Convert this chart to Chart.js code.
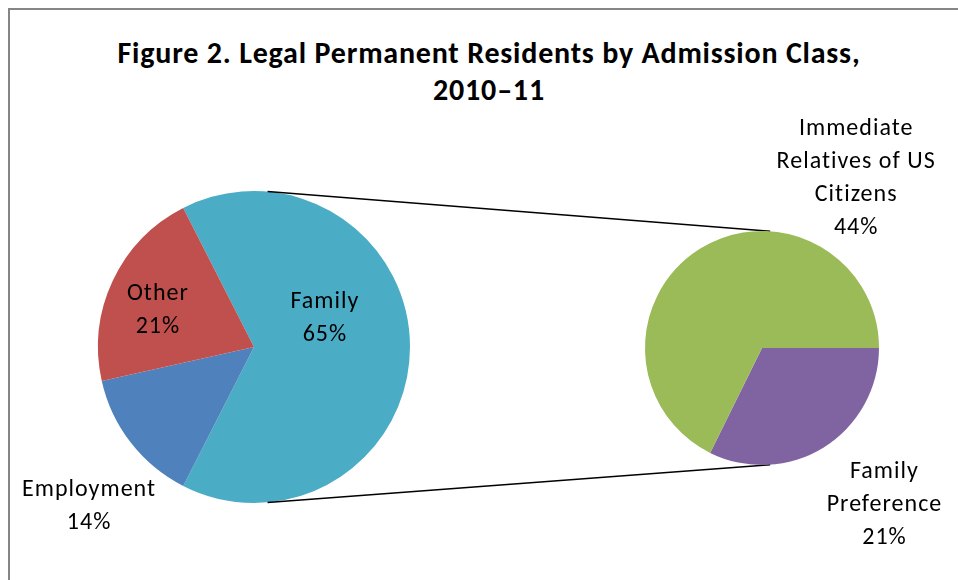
<!DOCTYPE html>
<html>
<head>
<meta charset="utf-8">
<script src="https://cdn.jsdelivr.net/npm/chart.js@4.4.1/dist/chart.umd.min.js"></script>
<style>
  body { margin: 0; background: #fff; width: 958px; height: 580px; overflow: hidden; position: relative; }
  #frame { position: absolute; left: 8px; top: 8px; width: 1000px; height: 700px; border: 2px solid #858585; box-sizing: border-box; }
  #title { position: absolute; left: 0; width: 978px; top: 34px; text-align: center; font-family: Carlito, Lato, sans-serif; font-weight: bold; font-size: 30px; letter-spacing: 0.8px; line-height: 37px; color: #000; }
  canvas { position: absolute; left: 0; top: 0; }
</style>
</head>
<body>
<div id="frame"></div>
<div id="title">Figure 2. Legal Permanent Residents by Admission Class,<br>2010–11</div>
<canvas id="main" width="958" height="580"></canvas>
<canvas id="sub" width="958" height="580"></canvas>
<script>
// main pie
const mainLabels = [['Family'], ['Employment'], ['Other']]
const mainValues = [65, 14, 21]
const mainColors = ['#4BACC6', '#4F81BD', '#C0504D']

// breakdown of Family
const subLabels = [['Family', 'Preference'], ['Immediate', 'Relatives of US', 'Citizens']]
const subValues = [21, 44]
const subColors = ['#8064A2', '#9BBB59']

// where the label sits: angle (deg clockwise from top), distance in radii
const mainLabelPos = [[68, 0.49], [226, 1.47], [291, 0.66]]
const subLabelPos = [[142, 1.70], [29, 1.66]]

const FONT = 'Carlito, Lato, sans-serif'

function labelPlugin(texts, values, pos) {
  return {
    id: 'sliceLabels',
    afterDatasetsDraw(chart) {
      const ctx = chart.ctx
      const arcs = chart.getDatasetMeta(0).data
      ctx.save()
      ctx.font = '24px ' + FONT
      ctx.letterSpacing = '1px'
      ctx.fillStyle = '#000'
      ctx.textAlign = 'center'
      ctx.textBaseline = 'middle'
      arcs.forEach((arc, i) => {
        const a = pos[i][0] * Math.PI / 180
        const d = pos[i][1] * arc.outerRadius
        const x = arc.x + d * Math.sin(a)
        const y = arc.y - d * Math.cos(a)
        const lines = texts[i].concat([values[i] + '%'])
        const lh = 33
        const y0 = y - (lines.length - 1) * lh / 2
        lines.forEach((t, k) => ctx.fillText(t, x, y0 + k * lh))
      })
      ctx.restore()
    }
  }
}

function pieOptions(rotation, pad) {
  return {
    responsive: false,
    animation: false,
    rotation: rotation,
    layout: { padding: pad },
    plugins: { legend: { display: false }, tooltip: { enabled: false } }
  }
}

const mainChart = new Chart(document.getElementById('main'), {
  type: 'pie',
  data: {
    labels: mainLabels,
    datasets: [{ data: mainValues, backgroundColor: mainColors, borderWidth: 0 }]
  },
  options: pieOptions(-27, { left: 98, top: 191, right: 548, bottom: 77 }),
  plugins: [labelPlugin(mainLabels, mainValues, mainLabelPos)]
})

// lines joining the two pies
const connectors = {
  id: 'connectors',
  beforeDatasetsDraw(chart) {
    const a = mainChart.getDatasetMeta(0).data[0]
    const b = chart.getDatasetMeta(0).data[0]
    const ctx = chart.ctx
    const pt = (arc, deg) => {
      const r = deg * Math.PI / 180
      return [arc.x + arc.outerRadius * Math.sin(r), arc.y - arc.outerRadius * Math.cos(r)]
    }
    ctx.save()
    ctx.strokeStyle = '#000'
    ctx.lineWidth = 1.5
    ;[[5, 4], [175, 176]].forEach(([da, db]) => {
      const p = pt(a, da), q = pt(b, db)
      ctx.beginPath()
      ctx.moveTo(p[0], p[1])
      ctx.lineTo(q[0], q[1])
      ctx.stroke()
    })
    ctx.restore()
  }
}

new Chart(document.getElementById('sub'), {
  type: 'pie',
  data: {
    labels: subLabels,
    datasets: [{ data: subValues, backgroundColor: subColors, borderWidth: 0 }]
  },
  options: pieOptions(90, { left: 645, top: 231, right: 79, bottom: 115 }),
  plugins: [connectors, labelPlugin(subLabels, subValues, subLabelPos)]
})
</script>
</body>
</html>
